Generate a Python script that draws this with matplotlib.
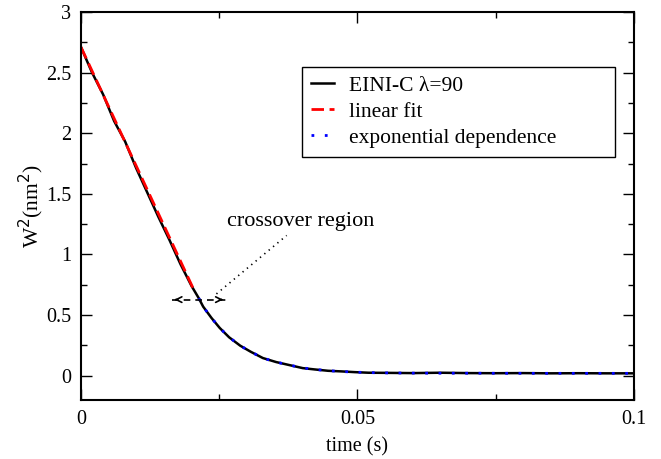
import numpy as np
import matplotlib.pyplot as plt
from matplotlib.ticker import MultipleLocator

plt.rcParams['font.family'] = ['Liberation Serif', 'DejaVu Serif']

# ---------------- data ----------------
# measured W^2 curve (EINI-C, lambda=90)
t_data = [0.0, 0.002, 0.004, 0.006, 0.008, 0.010, 0.012, 0.014, 0.016,
          0.018, 0.020, 0.0213, 0.0221, 0.0236, 0.0251, 0.0268, 0.0288,
          0.0307, 0.0329, 0.0353, 0.0377, 0.0401, 0.0423, 0.0447, 0.0471,
          0.0495, 0.052, 0.055, 0.060, 0.065, 0.070, 0.075, 0.080, 0.085,
          0.090, 0.095, 0.100]
w2_data = [2.71, 2.50, 2.32, 2.10, 1.93, 1.71, 1.51, 1.31, 1.12,
           0.92, 0.74, 0.64, 0.57, 0.477, 0.394, 0.317, 0.248,
           0.198, 0.146, 0.113, 0.088, 0.063, 0.052, 0.041, 0.036,
           0.030, 0.025, 0.024, 0.022, 0.025, 0.022, 0.021, 0.022, 0.020,
           0.021, 0.020, 0.020]

# linear fit (end points)
t_lin = [0.0, 0.0206]
w2_lin = [2.71, 0.69]

# exponential dependence
t_exp = [0.0213, 0.0221, 0.0236, 0.0251, 0.0268, 0.0288, 0.0307, 0.0329,
         0.0353, 0.0377, 0.0401, 0.0423, 0.0447, 0.0471, 0.0495, 0.052,
         0.056, 0.060, 0.065, 0.070, 0.080, 0.090, 0.100]
w2_exp = [0.64, 0.57, 0.477, 0.394, 0.317, 0.248, 0.198, 0.146,
          0.113, 0.088, 0.065, 0.052, 0.042, 0.035, 0.030, 0.026,
          0.023, 0.022, 0.021, 0.021, 0.020, 0.020, 0.020]

# tick labels
x_ticks = [0, 0.05, 0.1]
x_labels = ['0', '0.05', '0.1']
y_ticks = [0, 0.5, 1, 1.5, 2, 2.5, 3]
y_labels = ['0', '0.5', '1', '1.5', '2', '2.5', '3']

# crossover annotation
cross_t = [0.0164, 0.0262]
cross_y = 0.628
ptr_t = [0.0245, 0.0372]
ptr_y = [0.675, 1.157]

# ---------------- plot ----------------
fig = plt.figure(figsize=(6.61, 4.59), dpi=100)
ax = fig.add_axes([0.1225, 0.1285, 0.8365, 0.8455])

ax.plot(t_data, w2_data, color='black', lw=1.8, label='EINI-C λ=90')
ax.plot(t_lin, w2_lin, color='red', lw=2.0, dashes=(4.5, 2.0),
        label='linear fit')
ax.plot(t_exp, w2_exp, color='blue', lw=2.0, dashes=(1, 3.8),
        dash_capstyle='butt', label='exponential dependence')

# crossover region arrows
ax.plot(cross_t, [cross_y, cross_y], color='black', lw=1.2, dashes=(4, 3))
ax.annotate('', xy=(cross_t[0], cross_y), xytext=(cross_t[0] + 0.0015, cross_y),
            arrowprops=dict(arrowstyle='->', color='black', lw=1.2))
ax.annotate('', xy=(cross_t[1], cross_y), xytext=(cross_t[1] - 0.0015, cross_y),
            arrowprops=dict(arrowstyle='->', color='black', lw=1.2))
ax.plot(ptr_t, ptr_y, color='black', lw=1.2, dashes=(0.8, 2.6))
ax.text(0.0398, 1.27, 'crossover region', fontsize=16, ha='center',
        va='center')

ax.set_xlim(0, 0.1)
ax.set_ylim(-0.2, 3)
ax.set_xticks(x_ticks)
ax.set_xticklabels(x_labels)
ax.set_yticks(y_ticks)
ax.set_yticklabels(y_labels)
ax.xaxis.set_minor_locator(MultipleLocator(0.025))
ax.yaxis.set_minor_locator(MultipleLocator(0.25))
ax.tick_params(which='both', direction='in', top=True, right=True,
               labelsize=14.5, width=1.0)
ax.tick_params(which='major', length=8, pad=7)
ax.tick_params(which='minor', length=4)
for s in ax.spines.values():
    s.set_linewidth(1.5)

ax.set_xlabel('time (s)', fontsize=14.5, labelpad=6)
ax.set_ylabel('W$^2$(nm$^2$)', fontsize=15.5, labelpad=0)

leg = ax.legend(loc='upper left', bbox_to_anchor=(0.457, 0.854, 0.473, 0.0),
                bbox_transform=fig.transFigure, mode='expand',
                fontsize=15.5, handlelength=1.1, handletextpad=0.7,
                labelspacing=0.28, borderpad=0.4, borderaxespad=0,
                fancybox=False, framealpha=1)
leg.get_frame().set_edgecolor('black')
leg.get_frame().set_linewidth(1.0)

fig.savefig('out.png', dpi=100)
